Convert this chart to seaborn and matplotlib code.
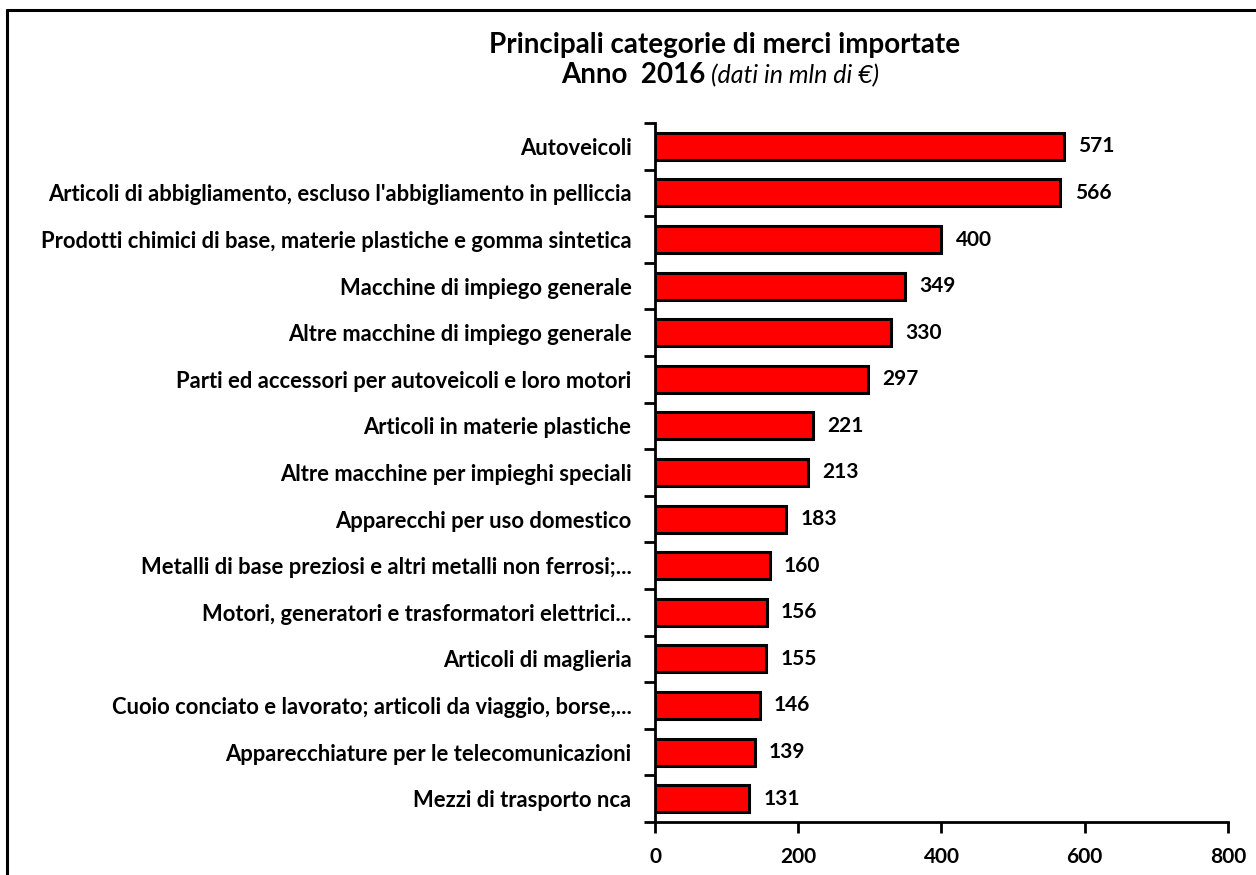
import matplotlib
matplotlib.use('Agg')
import matplotlib.pyplot as plt
import seaborn as sns
import pandas as pd
from matplotlib.lines import Line2D

categories = [
    "Autoveicoli",
    "Articoli di abbigliamento, escluso l'abbigliamento in pelliccia",
    "Prodotti chimici di base, materie plastiche e gomma sintetica",
    "Macchine di impiego generale",
    "Altre macchine di impiego generale",
    "Parti ed accessori per autoveicoli e loro motori",
    "Articoli in materie plastiche",
    "Altre macchine per impieghi speciali",
    "Apparecchi per uso domestico",
    "Metalli di base preziosi e altri metalli non ferrosi;...",
    "Motori, generatori e trasformatori elettrici...",
    "Articoli di maglieria",
    "Cuoio conciato e lavorato; articoli da viaggio, borse,...",
    "Apparecchiature per le telecomunicazioni",
    "Mezzi di trasporto nca",
]
values = [571, 566, 400, 349, 330, 297, 221, 213, 183, 160, 156, 155, 146, 139, 131]
x_ticks = [0, 200, 400, 600, 800]

df = pd.DataFrame({'categoria': categories, 'valore': values})

sns.set_style('white')
plt.rcParams['font.family'] = ['Lato', 'DejaVu Sans']
plt.rcParams['text.color'] = 'black'
plt.rcParams['xtick.color'] = 'black'
plt.rcParams['ytick.color'] = 'black'
plt.rcParams['axes.labelcolor'] = 'black'

fig = plt.figure(figsize=(12.56, 8.75), dpi=100)
ax = fig.add_axes([0.5215, 0.0606, 0.4562, 0.7988])

sns.barplot(data=df, x='valore', y='categoria', color='#ff0000', saturation=1,
            edgecolor='black', linewidth=2.2, width=0.58, ax=ax)

# etichette dei valori
for i, v in enumerate(values):
    ax.text(v + 20, i, str(v), va='center', ha='left', fontsize=15,
            fontweight='bold', color='black')

ax.set_xlim(0, 800)
ax.set_ylim(len(categories) - 0.5, -0.5)
ax.set_xticks(x_ticks)
ax.set_xticklabels([str(t) for t in x_ticks], fontsize=15, fontweight='bold')
ax.set_yticks(range(len(categories)))
ax.set_yticklabels(categories, fontsize=15.8, fontweight='bold')
ax.set_yticks([i - 0.5 for i in range(len(categories) + 1)], minor=True)
ax.tick_params(axis='y', which='major', length=0, pad=17)
ax.tick_params(axis='y', which='minor', length=8, width=2, direction='out', left=True)
ax.tick_params(axis='x', which='major', length=8, width=2, direction='out', bottom=True, pad=10)
ax.set_xlabel('')
ax.set_ylabel('')

for s in ['top', 'right']:
    ax.spines[s].set_visible(False)
for s in ['left', 'bottom']:
    ax.spines[s].set_linewidth(2)
    ax.spines[s].set_color('black')

# titolo
fig.text(0.577, 0.948, 'Principali categorie di merci importate', ha='center', va='center',
         fontsize=20, fontweight='bold')
fig.text(0.562, 0.914, 'Anno  2016', ha='right', va='center', fontsize=20, fontweight='bold')
fig.text(0.566, 0.914, '(dati in mln di €)', ha='left', va='center', fontsize=18,
         style='italic')

# cornice
fig.add_artist(Line2D([0.0056, 0.0056], [0.0, 0.9886], transform=fig.transFigure,
                      color='black', linewidth=2.2))
fig.add_artist(Line2D([0.0056, 1.0], [0.9886, 0.9886], transform=fig.transFigure,
                      color='black', linewidth=2.2))

fig.savefig('out.png', dpi=100)
